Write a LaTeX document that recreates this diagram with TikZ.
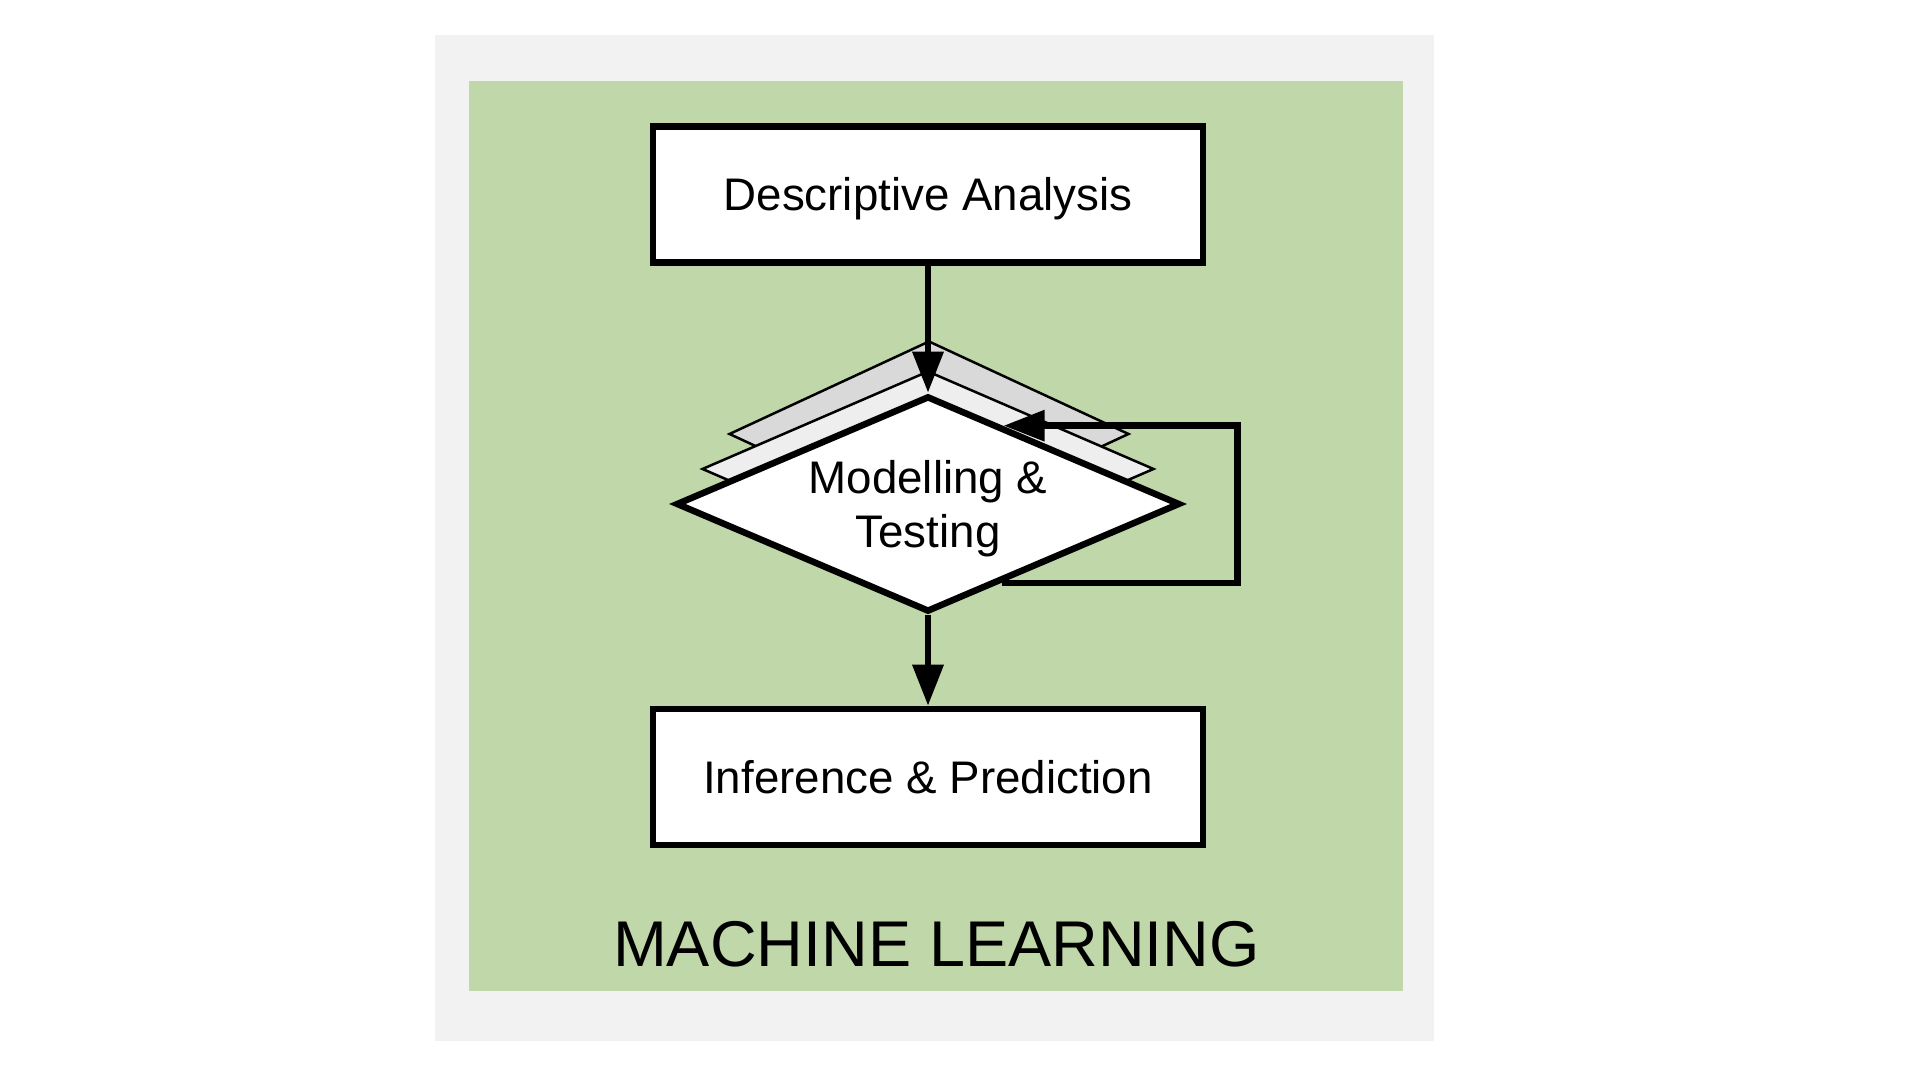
\documentclass[tikz,border=0pt]{standalone}
\usepackage{fontspec}
\setmainfont{Liberation Sans}
\usetikzlibrary{shapes.geometric,arrows.meta}
\definecolor{mlgreen}{RGB}{192,215,169}
\definecolor{framegray}{RGB}{242,242,242}
\definecolor{stackdark}{RGB}{217,217,217}
\definecolor{stacklight}{RGB}{238,238,238}
\tikzset{
  stage/.style={draw, line width=0.065cm, fill=white, minimum width=5.5cm, minimum height=1.36cm, inner sep=0pt, text height=0.33cm, text depth=0pt, font=\fontsize{13pt}{15.5pt}\selectfont},
  decision/.style={diamond, draw, line width=0.065cm, fill=white, shape aspect=2.37, minimum width=5.04cm, minimum height=2.16cm, inner sep=0pt, align=center, text depth=0pt, font=\fontsize{13pt}{15.4pt}\selectfont},
  layer/.style={diamond, draw, line width=0.025cm, inner sep=0pt},
  flow/.style={line width=0.065cm, -{Triangle[length=0.41cm,width=0.30cm]}}
}
\begin{document}
\begin{tikzpicture}
  \useasboundingbox (0,0) rectangle (19.2,10.8);
  \fill[white] (0,0) rectangle (19.2,10.8);
  \fill[framegray] (4.35,0.39) rectangle (14.34,10.45);
  \fill[mlgreen] (4.69,0.89) rectangle (14.03,9.99);
  \draw
    (9.29,6.46) node[layer, fill=stackdark, minimum width=4.0cm, minimum height=1.86cm] (back) {}
    (9.28,6.11) node[layer, fill=stacklight, minimum width=4.52cm, minimum height=1.96cm] (mid) {}
    (9.28,8.855) node[stage] (desc) {Descriptive Analysis}
    (9.28,5.76) node[decision] (model) {Modelling \&\\Testing}
    (9.28,3.03) node[stage] (infer) {Inference \& Prediction}
    (9.365,1.13) node[anchor=base, font=\fontsize{18.4pt}{22pt}\selectfont] (title) {MACHINE LEARNING};
  \coordinate (loop) at (12.377,0);
  \begin{scope}[flow]
    \draw (desc) to (model);
    \draw (model) to (infer);
    \draw (model.-47) -- (model.-47 -| loop) -- (model.46 -| loop) -- (model.46);
  \end{scope}
\end{tikzpicture}
\end{document}
